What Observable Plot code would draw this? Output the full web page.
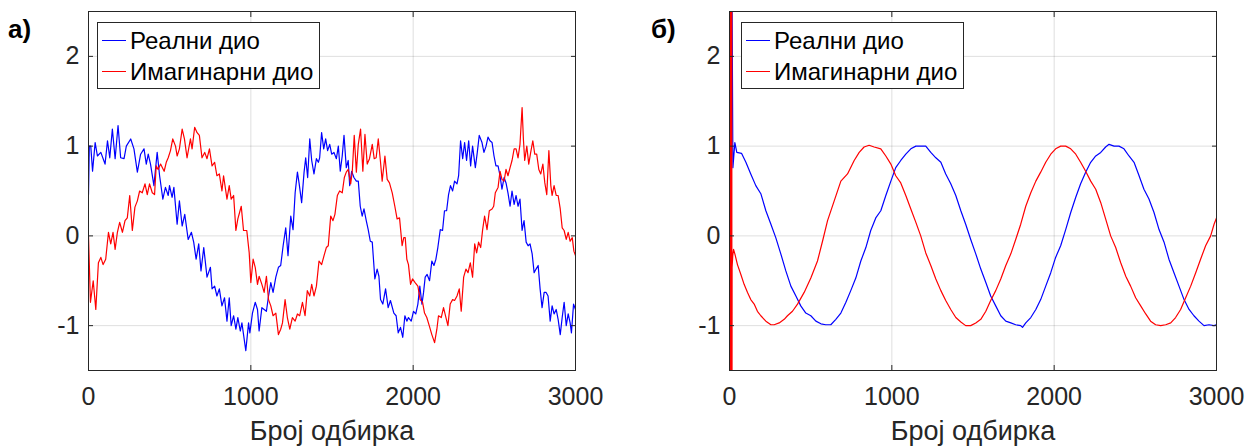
<!DOCTYPE html>
<html><head><meta charset="utf-8">
<script src="https://cdn.jsdelivr.net/npm/d3@7"></script>
<script src="https://cdn.jsdelivr.net/npm/@observablehq/plot@0.6"></script>
<style>
body{margin:0;background:#fff;}
#wrap{position:relative;width:1254px;height:448px;overflow:hidden;font-family:"Liberation Sans",Arial,Helvetica,sans-serif;}
.panel{position:absolute;top:0;}
.tag{position:absolute;font-weight:bold;font-size:26px;line-height:26px;color:#000;}
.legend{position:absolute;border:1px solid #262626;background:#fff;box-sizing:border-box;}
.lg-line{position:absolute;height:1.2px;width:24px;}
.lg-text{position:absolute;font-size:24px;line-height:24px;color:#000;white-space:nowrap;}
</style></head>
<body><div id="wrap"></div>
<script>
const xTicks = [0, 1000, 2000, 3000];
const yTicks = [-1, 0, 1, 2];
const xLabel = "Број одбирка";
const seriesNames = ["Реални дио", "Имагинарни дио"];
const seriesColors = ["#0000ff", "#ff0000"];
const panelTags = ["а)", "б)"];

// panel a) – real part [sample, value]
const realA = [[0,0.46],[5,1.0],[14,1.0],[25,0.72],[41,1.04],[55,0.89],[76,0.93],[102,0.80],[117,1.06],[131,0.87],[147,1.19],[164,0.86],[182,1.23],[198,0.87],[219,0.86],[233,1.00],[260,1.08],[280,0.97],[301,0.71],[321,0.91],[342,0.97],[356,0.80],[368,0.91],[382,0.80],[403,0.56],[423,0.93],[438,0.67],[458,0.41],[474,0.54],[491,0.45],[499,0.56],[515,0.43],[526,0.54],[546,0.13],[560,0.39],[577,0.11],[593,0.24],[614,-0.04],[634,0.04],[648,-0.07],[663,-0.26],[679,-0.09],[693,-0.39],[710,-0.13],[730,-0.46],[751,-0.35],[761,-0.59],[777,-0.56],[791,-0.67],[806,-0.59],[822,-0.78],[838,-0.69],[853,-0.95],[867,-0.69],[879,-1.00],[894,-0.89],[908,-1.04],[920,-0.91],[935,-1.06],[945,-0.97],[969,-1.28],[986,-0.97],[994,-1.08],[1010,-0.86],[1027,-0.74],[1041,-0.82],[1051,-1.06],[1068,-0.80],[1082,-0.82],[1096,-0.84],[1109,-0.67],[1123,-0.52],[1137,-0.63],[1154,-0.46],[1170,-0.35],[1184,-0.33],[1199,-0.11],[1215,0.09],[1229,-0.22],[1246,0.22],[1260,0.07],[1273,0.48],[1287,0.71],[1297,0.59],[1313,0.37],[1328,0.71],[1338,0.87],[1350,0.65],[1363,1.08],[1375,0.84],[1389,0.69],[1404,0.86],[1416,0.82],[1424,0.87],[1436,1.15],[1449,0.97],[1461,1.08],[1473,0.95],[1486,1.02],[1498,0.91],[1512,0.93],[1527,0.86],[1539,1.00],[1551,0.72],[1563,0.89],[1574,1.12],[1588,0.76],[1600,0.84],[1609,0.56],[1621,0.72],[1635,0.65],[1650,0.61],[1662,0.61],[1674,0.33],[1686,0.22],[1697,0.30],[1711,0.17],[1723,0.07],[1736,-0.06],[1748,-0.07],[1764,-0.48],[1778,-0.37],[1789,-0.45],[1799,-0.71],[1813,-0.76],[1830,-0.59],[1846,-0.80],[1860,-0.72],[1881,-0.86],[1895,-0.89],[1908,-1.08],[1922,-1.02],[1936,-1.13],[1949,-0.89],[1961,-0.95],[1971,-0.91],[1988,-0.95],[2002,-0.84],[2016,-0.87],[2029,-0.76],[2041,-0.56],[2054,-0.76],[2064,-0.63],[2074,-0.46],[2086,-0.43],[2101,-0.50],[2115,-0.28],[2128,-0.33],[2140,-0.26],[2152,-0.13],[2167,0.07],[2181,0.06],[2193,0.28],[2206,0.28],[2218,0.46],[2230,0.56],[2243,0.50],[2255,0.61],[2270,0.58],[2280,0.67],[2292,1.06],[2305,0.86],[2317,1.04],[2329,0.84],[2342,1.06],[2354,0.78],[2366,1.00],[2383,0.76],[2395,0.93],[2407,1.12],[2424,1.04],[2436,0.93],[2449,1.00],[2461,1.10],[2473,1.06],[2486,1.04],[2498,0.89],[2510,0.78],[2523,0.78],[2535,0.67],[2547,0.52],[2560,0.65],[2572,0.59],[2584,0.48],[2597,0.33],[2609,0.50],[2622,0.35],[2634,0.45],[2646,0.33],[2658,0.41],[2671,0.06],[2683,0.17],[2696,-0.07],[2708,-0.11],[2720,-0.09],[2733,-0.20],[2745,-0.41],[2757,-0.37],[2770,-0.33],[2782,-0.59],[2794,-0.80],[2807,-0.63],[2819,-0.63],[2831,-0.67],[2844,-0.95],[2856,-0.78],[2868,-0.87],[2881,-0.82],[2893,-0.93],[2906,-1.10],[2918,-0.91],[2930,-0.74],[2943,-1.00],[2955,-0.87],[2967,-0.97],[2975,-1.08],[2988,-0.76],[3000,-0.82]];

// panel a) – imaginary part
const imagA = [[0,0],[12,-0.74],[29,-0.50],[45,-0.82],[61,-0.30],[76,-0.24],[90,-0.32],[106,-0.26],[123,0.04],[137,-0.09],[151,0.04],[164,-0.15],[178,0.04],[192,0.15],[209,0.04],[225,0.17],[239,0.20],[254,0.45],[270,0.06],[286,0.32],[301,0.39],[315,0.50],[331,0.48],[348,0.58],[362,0.46],[376,0.58],[393,0.48],[407,0.46],[417,0.78],[429,0.74],[444,0.80],[466,0.72],[479,0.82],[491,0.87],[505,0.95],[519,1.08],[536,1.00],[546,0.89],[560,0.97],[577,1.19],[591,1.08],[607,0.87],[628,1.08],[638,0.97],[654,1.21],[669,1.15],[683,1.12],[699,0.87],[716,0.93],[730,0.86],[745,0.97],[761,0.78],[777,0.82],[791,0.67],[806,0.69],[822,0.50],[832,0.67],[853,0.41],[867,0.56],[879,0.41],[894,0.45],[908,0.06],[920,0.19],[941,0.33],[955,0.06],[975,0.06],[990,-0.19],[1000,-0.52],[1014,-0.26],[1027,-0.35],[1041,-0.54],[1051,-0.45],[1068,-0.54],[1082,-0.63],[1096,-0.45],[1109,-0.71],[1123,-0.78],[1137,-0.89],[1154,-0.86],[1170,-1.10],[1184,-1.04],[1195,-0.97],[1211,-0.71],[1225,-0.91],[1240,-1.04],[1256,-0.91],[1273,-0.95],[1287,-0.87],[1301,-0.89],[1318,-0.74],[1334,-0.89],[1348,-0.61],[1363,-0.67],[1375,-0.54],[1389,-0.67],[1404,-0.56],[1420,-0.28],[1436,-0.32],[1451,-0.22],[1465,-0.13],[1477,-0.11],[1492,0.22],[1506,0.17],[1518,0.24],[1533,0.45],[1547,0.50],[1563,0.48],[1576,0.65],[1588,0.71],[1600,0.74],[1615,0.58],[1625,0.72],[1637,1.12],[1650,0.71],[1662,1.02],[1676,1.19],[1690,0.72],[1703,1.13],[1717,0.80],[1731,0.86],[1748,1.02],[1760,0.86],[1772,0.87],[1785,1.08],[1799,0.82],[1809,0.61],[1826,0.89],[1840,0.63],[1854,0.59],[1871,0.48],[1887,0.33],[1901,0.19],[1916,0.20],[1932,-0.11],[1942,-0.02],[1951,-0.02],[1961,-0.26],[1971,-0.32],[1984,-0.54],[1996,-0.48],[2012,-0.52],[2029,-0.56],[2043,-0.71],[2058,-0.74],[2070,-0.86],[2084,-0.91],[2099,-1.00],[2115,-1.10],[2132,-1.19],[2146,-1.04],[2156,-0.89],[2173,-0.91],[2187,-0.80],[2202,-0.91],[2214,-1.00],[2228,-0.76],[2243,-0.71],[2255,-0.72],[2270,-0.67],[2284,-0.59],[2296,-0.84],[2311,-0.46],[2325,-0.37],[2338,-0.41],[2352,-0.30],[2366,-0.46],[2379,-0.09],[2391,-0.19],[2403,-0.07],[2416,-0.13],[2428,0.07],[2440,0.22],[2455,0.07],[2469,0.28],[2486,0.30],[2496,0.33],[2506,0.48],[2523,0.54],[2535,0.72],[2547,0.63],[2560,0.61],[2572,0.74],[2584,0.67],[2597,0.76],[2609,0.84],[2622,0.97],[2634,0.97],[2646,0.87],[2658,1.02],[2671,1.43],[2679,1.08],[2687,0.84],[2700,1.00],[2712,0.80],[2724,0.93],[2737,1.06],[2749,0.91],[2761,0.91],[2774,0.74],[2786,0.69],[2799,0.80],[2811,0.59],[2823,0.46],[2836,0.95],[2848,0.56],[2856,0.45],[2868,0.56],[2881,0.45],[2893,0.45],[2906,0.30],[2918,0.09],[2930,0.06],[2943,-0.04],[2955,0.04],[2967,-0.06],[2980,-0.02],[2990,-0.17],[3000,-0.22]];

// panel б) – real part
const realB = [[0,4],[12,4],[21,0.76],[33,1.04],[45,0.93],[74,0.92],[101,0.82],[131,0.69],[162,0.56],[193,0.47],[224,0.28],[255,0.13],[285,-0.02],[316,-0.20],[347,-0.39],[378,-0.56],[409,-0.67],[439,-0.78],[470,-0.86],[501,-0.89],[532,-0.95],[563,-0.98],[593,-0.99],[624,-0.99],[655,-0.93],[686,-0.86],[717,-0.74],[747,-0.61],[778,-0.47],[809,-0.28],[840,-0.13],[870,0.06],[901,0.20],[932,0.28],[963,0.45],[994,0.61],[1024,0.76],[1055,0.84],[1086,0.91],[1117,0.97],[1148,1.00],[1178,1.00],[1209,1.00],[1240,0.93],[1271,0.87],[1302,0.82],[1332,0.69],[1363,0.58],[1394,0.45],[1425,0.28],[1455,0.13],[1486,-0.04],[1517,-0.20],[1548,-0.37],[1579,-0.52],[1609,-0.67],[1640,-0.78],[1671,-0.89],[1702,-0.95],[1733,-0.97],[1763,-0.99],[1794,-1.00],[1805,-1.02],[1825,-0.97],[1856,-0.91],[1887,-0.82],[1917,-0.71],[1948,-0.56],[1979,-0.41],[2009,-0.24],[2040,-0.11],[2071,0.07],[2102,0.26],[2133,0.43],[2163,0.58],[2194,0.71],[2225,0.82],[2256,0.89],[2287,0.93],[2317,0.99],[2338,1.02],[2369,1.00],[2399,1.00],[2430,0.97],[2461,0.89],[2492,0.82],[2523,0.67],[2553,0.52],[2584,0.41],[2615,0.26],[2646,0.07],[2677,-0.07],[2707,-0.26],[2738,-0.41],[2769,-0.56],[2800,-0.71],[2831,-0.82],[2861,-0.89],[2892,-0.95],[2923,-1.00],[2954,-0.99],[2985,-1.00],[3000,-0.99]];

// panel б) – imaginary part (start-up transient in the first samples)
const imagB = [[0,4],[1,-4],[2,4],[3,-4],[4,4],[5,-4],[6,4],[7,-4],[8,4],[9,-4],[10,4],[11,-4],[12,4],[13,-4],[14,4],[15,-4],[16,-0.35],[20,-0.22],[25,-0.15],[33,-0.20],[49,-0.32],[70,-0.43],[90,-0.54],[111,-0.63],[131,-0.71],[152,-0.76],[172,-0.84],[193,-0.89],[224,-0.95],[255,-0.99],[275,-0.99],[306,-0.97],[337,-0.93],[357,-0.89],[388,-0.84],[419,-0.76],[460,-0.63],[501,-0.47],[542,-0.28],[573,-0.06],[604,0.17],[645,0.39],[686,0.61],[727,0.69],[768,0.84],[799,0.93],[829,0.99],[860,1.01],[891,0.99],[932,0.97],[963,0.89],[994,0.80],[1024,0.67],[1055,0.59],[1086,0.45],[1117,0.30],[1148,0.15],[1178,0.00],[1209,-0.19],[1240,-0.33],[1271,-0.48],[1302,-0.61],[1332,-0.72],[1363,-0.82],[1394,-0.91],[1425,-0.96],[1455,-1.00],[1486,-1.00],[1517,-0.97],[1548,-0.93],[1579,-0.84],[1609,-0.72],[1640,-0.61],[1671,-0.48],[1702,-0.33],[1733,-0.20],[1763,-0.04],[1794,0.13],[1825,0.33],[1856,0.48],[1887,0.61],[1917,0.71],[1948,0.82],[1979,0.91],[2009,0.97],[2040,1.00],[2071,1.00],[2102,0.97],[2133,0.91],[2163,0.82],[2194,0.72],[2225,0.61],[2256,0.52],[2287,0.37],[2317,0.19],[2348,0.00],[2379,-0.13],[2410,-0.30],[2441,-0.45],[2471,-0.56],[2502,-0.69],[2533,-0.78],[2564,-0.87],[2594,-0.95],[2625,-0.99],[2656,-1.00],[2687,-0.99],[2718,-0.97],[2748,-0.91],[2779,-0.82],[2810,-0.69],[2841,-0.56],[2872,-0.41],[2902,-0.26],[2933,-0.11],[2964,0.00],[2985,0.13],[3000,0.20]];

const FONT = '"Liberation Sans", Arial, Helvetica, sans-serif';
const AX = "#262626";

function panel(real, imag, ml, mr) {
  return Plot.plot({
    width: 627, height: 448,
    marginLeft: ml, marginRight: mr, marginTop: 11, marginBottom: 78,
    style: {fontFamily: FONT, fontSize: "25px", color: AX, background: "transparent", overflow: "visible"},
    x: {domain: [0, 3000]},
    y: {domain: [-1.5, 2.5]},
    marks: [
      Plot.gridX(xTicks, {stroke: AX, strokeOpacity: 0.15}),
      Plot.gridY(yTicks, {stroke: AX, strokeOpacity: 0.15}),
      Plot.line(real, {x: d => d[0], y: d => d[1], stroke: seriesColors[0], strokeWidth: 1.2, clip: true}),
      Plot.line(imag, {x: d => d[0], y: d => d[1], stroke: seriesColors[1], strokeWidth: 1.2, clip: true}),
      Plot.frame({stroke: AX}),
      Plot.axisX(xTicks, {anchor: "bottom", tickSize: -5, tickPadding: 22, tickFormat: d => String(d), label: null}),
      Plot.axisX(xTicks, {anchor: "top", tickSize: -5, tickFormat: () => "", label: null}),
      Plot.axisY(yTicks, {anchor: "left", tickSize: -5, tickPadding: 14, tickFormat: d => String(d), label: null}),
      Plot.axisY(yTicks, {anchor: "right", tickSize: -5, tickFormat: () => "", label: null}),
      Plot.text([xLabel], {frameAnchor: "bottom", dy: 69, text: d => d, fontSize: 27, fill: AX})
    ]
  });
}

const wrap = document.getElementById("wrap");
const panels = [
  {real: realA, imag: imagA, left: 0, ml: 88, mr: 52, tagX: 8, legX: 97},
  {real: realB, imag: imagB, left: 627, ml: 102, mr: 38, tagX: 651, legX: 741}
];
panels.forEach((p, i) => {
  const div = document.createElement("div");
  div.className = "panel";
  div.style.left = p.left + "px";
  div.appendChild(panel(p.real, p.imag, p.ml, p.mr));
  wrap.appendChild(div);

  const tag = document.createElement("div");
  tag.className = "tag";
  tag.style.left = p.tagX + "px";
  tag.style.top = "16px";
  tag.textContent = panelTags[i];
  wrap.appendChild(tag);

  const leg = document.createElement("div");
  leg.className = "legend";
  leg.style.left = p.legX + "px";
  leg.style.top = "22px";
  leg.style.width = "223px";
  leg.style.height = "67px";
  seriesNames.forEach((name, j) => {
    const ln = document.createElement("div");
    ln.className = "lg-line";
    ln.style.left = "4px";
    ln.style.top = (17 + 31 * j) + "px";
    ln.style.background = seriesColors[j];
    leg.appendChild(ln);
    const tx = document.createElement("div");
    tx.className = "lg-text";
    tx.style.left = "32px";
    tx.style.top = (6 + 31 * j) + "px";
    tx.textContent = name;
    leg.appendChild(tx);
  });
  wrap.appendChild(leg);
});
</script>
</body></html>
